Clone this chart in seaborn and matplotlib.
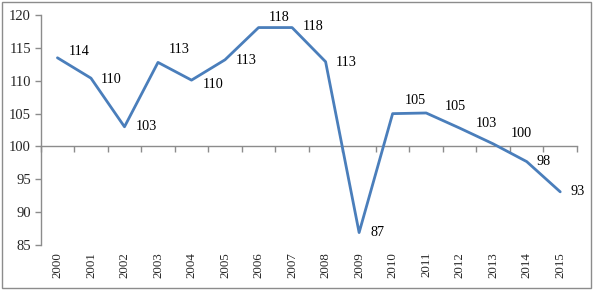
import numpy as np
import pandas as pd
import matplotlib
matplotlib.use("Agg")
import matplotlib.pyplot as plt
import seaborn as sns

# datos
anios = list(range(2000, 2016))
valores = [113.5, 110.4, 103.0, 112.8, 110.1, 113.2, 118.1, 118.1,
           112.9, 86.9, 105.0, 105.1, 102.8, 100.4, 97.7, 93.1]
etiquetas = ["114", "110", "103", "113", "110", "113", "118", "118",
             "113", "87", "105", "105", "103", "100", "98", "93"]

# desplazamiento de cada etiqueta (pixeles) respecto al punto
desp_x = [11, 10, 11, 11, 11, 11, 10, 11, 10, 11, 12, 19, 16, 18, 10, 10]
desp_y = [6, -1, 0, 13, -4, -1, 10, 1, -1, 0, 13, 6, 5, 10, 0, 0]

sns.set_style("white")
plt.rcParams["font.family"] = ["Liberation Serif", "DejaVu Serif"]

df = pd.DataFrame({"anio": anios, "valor": valores})

fig = plt.figure(figsize=(5.93, 2.9), dpi=100)
ax = fig.add_axes([0.0686, 0.155, 0.9044, 0.793])

gris = "#8c8c8c"
sns.lineplot(data=df, x="anio", y="valor", color="#4a7ebb", linewidth=2.0, ax=ax)

for x, y, t, dx, dy in zip(anios, valores, etiquetas, desp_x, desp_y):
    ax.annotate(t, (x, y), xytext=(dx, dy), textcoords="offset pixels",
                ha="left", va="center", fontsize=10.2, color="black")

ax.set_xlim(1999.5, 2015.5)
ax.set_ylim(85, 120)
ax.set_yticks(range(85, 121, 5))
ax.set_xticks(anios)
ax.set_xticklabels([str(a) for a in anios], rotation=90)
ax.tick_params(axis="x", length=0, pad=5, labelsize=9.3)
ax.tick_params(axis="y", length=4, direction="out", color=gris, width=1,
               pad=3, labelsize=10.5, left=True)
ax.set_xlabel("")
ax.set_ylabel("")

for lado in ["top", "right", "bottom"]:
    ax.spines[lado].set_visible(False)
ax.spines["left"].set_color(gris)
ax.spines["left"].set_linewidth(1)

# eje horizontal cruzando en 100
sec = ax.secondary_xaxis(100, transform=ax.transData)
sec.set_xticks(np.arange(1999.5, 2016, 1.0))
sec.set_xticklabels([])
sec.tick_params(axis="x", direction="in", length=4, color=gris, width=1)
sec.spines["bottom"].set_color(gris)
sec.spines["top"].set_color(gris)
sec.spines["top"].set_linewidth(1)
sec.spines["bottom"].set_linewidth(1)

# marco del gráfico
marco = plt.Rectangle((0.004, 0.008), 0.993, 0.985, transform=fig.transFigure,
                      fill=False, edgecolor=gris, linewidth=1)
fig.patches.append(marco)

fig.savefig("out.png", dpi=100)
